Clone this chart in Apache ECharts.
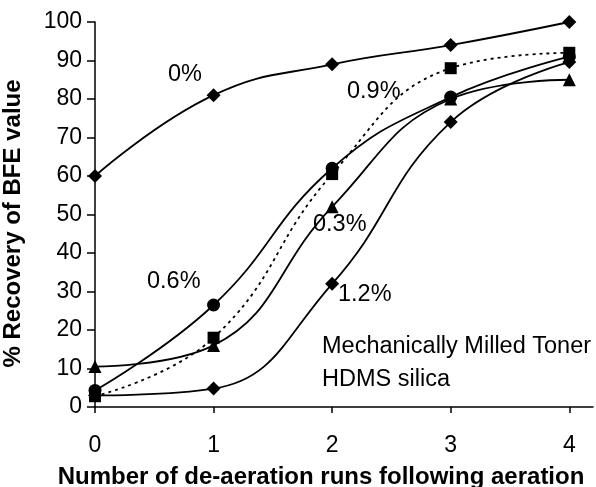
<!DOCTYPE html>
<html>
<head>
<meta charset="utf-8">
<script src="https://cdn.jsdelivr.net/npm/echarts@6/dist/echarts.min.js"></script>
<style>
  html, body { margin: 0; padding: 0; background: #fff; }
  #chart { width: 596px; height: 487px; }
</style>
</head>
<body>
<div id="chart"></div>
<script>
// runs after aeration
var runs = [0, 1, 2, 3, 4];

// % recovery of BFE value, one array per silica level
var pct0  = [60, 81, 89, 94, 100];
var pct03 = [10.5, 16, 52, 80, 85];
var pct06 = [4.3, 26.5, 62, 80.5, 91];
var pct09 = [2.8, 18, 60.5, 88, 92];
var pct12 = [3, 4.8, 32, 74, 89.6];

var seriesNames = ['0%', '0.3%', '0.6%', '0.9%', '1.2%'];
var noteLines = ['Mechanically Milled Toner', 'HDMS silica'];

function pairs(ys) {
    return runs.map(function (x, i) { return [x, ys[i]]; });
}

var FONT = 'Liberation Sans, Arial, sans-serif';

function line(name, ys, symbol, size, dashed) {
    return {
        name: name,
        type: 'line',
        data: pairs(ys),
        smooth: 0.45,
        symbol: symbol,
        symbolSize: size,
        itemStyle: { color: '#000' },
        lineStyle: { color: '#000', width: 1.8, type: dashed ? [3, 4] : 'solid' },
        emphasis: { disabled: true },
        animation: false
    };
}

var chart = echarts.init(document.getElementById('chart'));

function note(text, left, top) {
    return {
        type: 'text', left: left, top: top,
        style: { text: text, fill: '#000', font: '23.5px ' + FONT }
    };
}

chart.setOption({
    backgroundColor: '#fff',
    animation: false,
    grid: { left: 95, right: 3, top: 22, bottom: 80, containLabel: false, outerBoundsMode: 'none' },
    xAxis: {
        type: 'value',
        min: 0, max: 4.2, interval: 1,
        name: 'Number of de-aeration runs following aeration',
        nameLocation: 'middle',
        nameGap: 58,
        nameTextStyle: { fontFamily: FONT, fontSize: 24, fontWeight: 'bold', color: '#000', padding: [0, 46, 0, 0] },
        axisLine: { lineStyle: { color: '#000', width: 1.5 } },
        axisTick: { customValues: runs, length: 6, lineStyle: { color: '#000', width: 1.5 } },
        axisLabel: { customValues: runs, fontFamily: FONT, fontSize: 23, color: '#000', margin: 27 },
        splitLine: { show: false }
    },
    yAxis: {
        type: 'value',
        min: 0, max: 100, interval: 10,
        name: '% Recovery of BFE value',
        nameLocation: 'middle',
        nameGap: 70,
        nameTextStyle: { fontFamily: FONT, fontSize: 24, fontWeight: 'bold', color: '#000', padding: [0, 18, 0, 0] },
        axisLine: { show: true, lineStyle: { color: '#000', width: 1.5 } },
        axisTick: { show: true, length: 8, lineStyle: { color: '#000', width: 1.5 } },
        axisLabel: { fontFamily: FONT, fontSize: 23, color: '#000', margin: 13 },
        splitLine: { show: false }
    },
    series: [
        line(seriesNames[0], pct0, 'diamond', 14, false),
        line(seriesNames[1], pct03, 'triangle', 13, false),
        line(seriesNames[2], pct06, 'circle', 13, false),
        line(seriesNames[3], pct09, 'rect', 12, true),
        line(seriesNames[4], pct12, 'diamond', 14, false)
    ],
    graphic: [
        note(seriesNames[0], 168, 63),
        note(seriesNames[3], 347, 80),
        note(seriesNames[1], 313, 213),
        note(seriesNames[2], 147, 270),
        note(seriesNames[4], 338, 283),
        note(noteLines[0], 322, 335),
        note(noteLines[1], 322, 368)
    ]
});
</script>
</body>
</html>
